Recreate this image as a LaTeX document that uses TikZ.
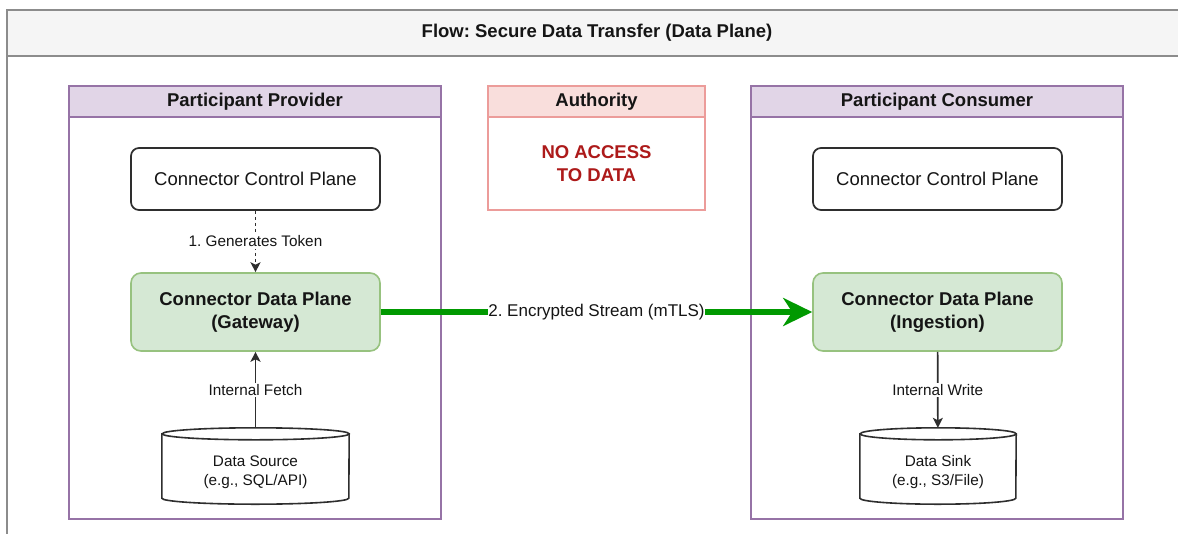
\documentclass[tikz,border=0pt]{standalone}
\usepackage{fontspec}
\setmainfont{Liberation Sans}
\usetikzlibrary{arrows.meta}
\frenchspacing

\definecolor{framegray}{HTML}{8C8C8C}
\definecolor{headgray}{HTML}{F5F5F5}
\definecolor{lanestroke}{HTML}{9673A6}
\definecolor{lanefill}{HTML}{E1D5E7}
\definecolor{authstroke}{HTML}{EC9C9A}
\definecolor{authfill}{HTML}{F9DEDC}
\definecolor{authtext}{HTML}{AD1A1A}
\definecolor{dpfill}{HTML}{D5E8D4}
\definecolor{dpstroke}{HTML}{97C27F}
\definecolor{streamgreen}{HTML}{009900}
\definecolor{ink}{HTML}{151515}
\definecolor{boxstroke}{HTML}{2E2E2E}

\newcommand{\bigfont}{\fontsize{18.5}{23}\selectfont}
\newcommand{\smallfont}{\fontsize{15.3}{19}\selectfont}
\newcommand{\streamfont}{\fontsize{17}{21}\selectfont}

\begin{document}
\begin{tikzpicture}[x=1pt,y=-1pt,
  frame/.style={draw=framegray, line width=1.8pt},
  lane/.style={draw=lanestroke, line width=1.5pt, fill=white, inner sep=0pt},
  lanehead/.style={draw=lanestroke, line width=1.5pt, fill=lanefill, inner sep=0pt,
    font=\bigfont\bfseries, text=ink},
  authbody/.style={draw=authstroke, line width=1.5pt, fill=white, inner sep=0pt,
    font=\bigfont\bfseries, text=authtext, align=center},
  authhead/.style={draw=authstroke, line width=1.5pt, fill=authfill, inner sep=0pt,
    font=\bigfont\bfseries, text=ink},
  ctrlbox/.style={draw=boxstroke, line width=1.7pt, fill=white, rounded corners=8pt,
    minimum width=249pt, minimum height=62pt, font=\bigfont, text=ink},
  databox/.style={draw=dpstroke, line width=1.6pt, fill=dpfill, rounded corners=10pt,
    minimum width=249pt, minimum height=78pt, font=\bigfont\bfseries, text=ink, align=center},
  cylbody/.style={draw=none, inner sep=0pt, minimum height=76pt},
  cylline/.style={draw=boxstroke, line width=1.6pt, fill=white},
  cyltext/.style={font=\smallfont, text=ink, align=center},
  elabel/.style={fill=white, inner sep=1.5pt, font=\smallfont, text=ink},
  flow/.style={draw=boxstroke, line width=1.7pt, -{Stealth[length=10pt,width=10pt,inset=2.5pt]}},
  stream/.style={draw=streamgreen, line width=5.5pt, -{Stealth[length=29pt,width=28pt,inset=9pt]}},
  streamlabel/.style={fill=white, inner xsep=0.5pt, inner ysep=2pt, font=\streamfont, text=ink}
]
\useasboundingbox (0,0) rectangle (1178,533);
\clip (0,0) rectangle (1178,533);

% outer flow frame with its title bar
\draw[frame, fill=white] (7,10) rectangle (1200,560);
\draw[frame, fill=headgray] (7,10) rectangle (1200,56);
\node[font=\bigfont\bfseries, text=ink] (title) at (597,33) {Flow: Secure Data Transfer (Data Plane)};

% provider swimlane
\node[lane, minimum width=372pt, minimum height=433pt] (prov) at (255,302.5) {};
\node[lanehead, minimum width=372pt, minimum height=31pt, anchor=north] (provh) at (prov.north) {Participant Provider};

% consumer swimlane
\node[lane, minimum width=372pt, minimum height=433pt] (cons) at (937,302.5) {};
\node[lanehead, minimum width=372pt, minimum height=31pt, anchor=north] (consh) at (cons.north) {Participant Consumer};

% authority box
\node[authbody, minimum width=217pt, minimum height=124pt] (auth) at (596.5,148) {};
\node[authhead, minimum width=217pt, minimum height=31pt, anchor=north] (authh) at (auth.north) {Authority};
\node[font=\bigfont\bfseries, text=authtext, align=center] (authnote) at (596.5,163.5) {NO ACCESS\\TO DATA};

% control planes
\node[ctrlbox] (cp1) at (255.5,179) {Connector Control Plane};
\node[ctrlbox] (cp2) at (937.5,179) {Connector Control Plane};

% data planes
\node[databox] (dp1) at (255.5,312) {Connector Data Plane\\(Gateway)};
\node[databox] (dp2) at (937.5,312) {Connector Data Plane\\(Ingestion)};

% data source cylinder
\node[cylbody, minimum width=187pt] (src) at (255.5,466) {};
\path[cylline] ([yshift=-6pt]src.north west) -- ([yshift=6pt]src.south west)
  arc[start angle=180, end angle=360, x radius=93.5pt, y radius=6pt]
  -- ([yshift=-6pt]src.north east)
  arc[start angle=0, end angle=180, x radius=93.5pt, y radius=6pt] -- cycle;
\draw[draw=boxstroke, line width=1.6pt] ([yshift=-6pt]src.north east)
  arc[start angle=0, end angle=-180, x radius=93.5pt, y radius=6pt];
\node[cyltext] (srcl) at ([yshift=-6.5pt]src.center) {Data Source\\(e.g., SQL/API)};

% data sink cylinder
\node[cylbody, minimum width=156pt] (snk) at (938,466) {};
\path[cylline] ([yshift=-6pt]snk.north west) -- ([yshift=6pt]snk.south west)
  arc[start angle=180, end angle=360, x radius=78pt, y radius=6pt]
  -- ([yshift=-6pt]snk.north east)
  arc[start angle=0, end angle=180, x radius=78pt, y radius=6pt] -- cycle;
\draw[draw=boxstroke, line width=1.6pt] ([yshift=-6pt]snk.north east)
  arc[start angle=0, end angle=-180, x radius=78pt, y radius=6pt];
\node[cyltext] (snkl) at ([yshift=-6.5pt]snk.center) {Data Sink\\(e.g., S3/File)};

% connectors
\draw[flow, dash pattern=on 3pt off 3pt] (cp1) -- node[elabel] {1. Generates Token} (dp1);
\draw[flow] (src) -- node[elabel] {Internal Fetch} (dp1);
\draw[flow] (dp2) -- node[elabel] {Internal Write} (snk);
\draw[stream] (dp1) -- node[streamlabel] {2. Encrypted Stream (mTLS)} (dp2);
\end{tikzpicture}
\end{document}
